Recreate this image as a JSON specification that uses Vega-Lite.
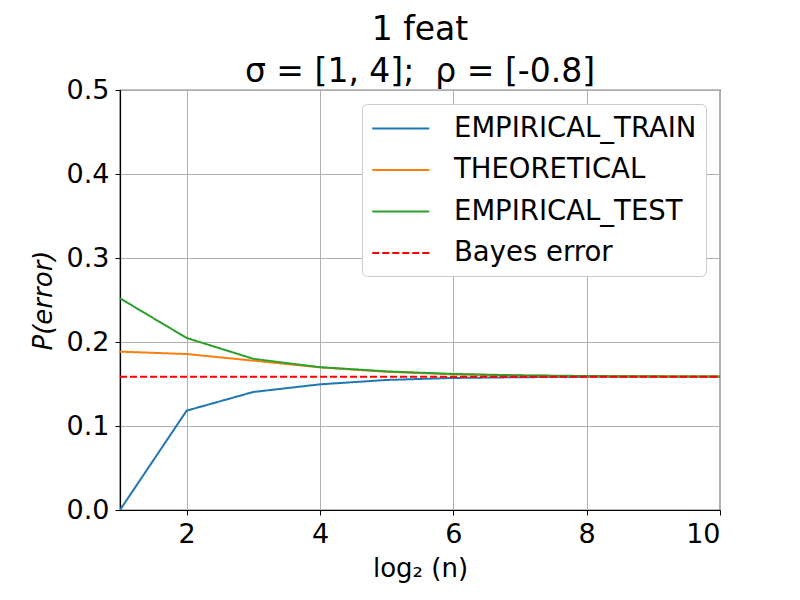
{
  "$schema": "https://vega.github.io/schema/vega-lite/v6.json",
  "width": 600,
  "height": 420,
  "autosize": {"type": "none"},
  "padding": {"left": 120, "top": 90, "right": 80, "bottom": 90},
  "background": "white",
  "config": {
    "font": "DejaVu Sans",
    "view": {"stroke": "black", "strokeWidth": 1.2},
    "axis": {
      "gridColor": "#b0b0b0",
      "gridWidth": 1,
      "gridOpacity": 1,
      "domainColor": "black",
      "domainWidth": 1.2,
      "tickColor": "black",
      "tickSize": 5,
      "tickWidth": 1,
      "labelFont": "DejaVu Sans",
      "labelFontSize": 27,
      "labelColor": "black",
      "titleFont": "DejaVu Sans",
      "titleFontSize": 26,
      "titleFontWeight": "normal",
      "titleColor": "black"
    }
  },
  "title": {
    "text": ["1 feat", "σ = [1, 4]; \u00a0ρ = [-0.8]"],
    "fontSize": 33,
    "fontWeight": "normal",
    "font": "DejaVu Sans",
    "color": "black",
    "anchor": "middle",
    "offset": -13,
    "lineHeight": 42
  },
  "data": {
    "values": [
      {"n": 1, "series": "EMPIRICAL_TRAIN", "p": 0.0},
      {"n": 2, "series": "EMPIRICAL_TRAIN", "p": 0.1183},
      {"n": 3, "series": "EMPIRICAL_TRAIN", "p": 0.1405},
      {"n": 4, "series": "EMPIRICAL_TRAIN", "p": 0.1496},
      {"n": 5, "series": "EMPIRICAL_TRAIN", "p": 0.1548},
      {"n": 6, "series": "EMPIRICAL_TRAIN", "p": 0.1572},
      {"n": 7, "series": "EMPIRICAL_TRAIN", "p": 0.1581},
      {"n": 8, "series": "EMPIRICAL_TRAIN", "p": 0.1585},
      {"n": 9, "series": "EMPIRICAL_TRAIN", "p": 0.1586},
      {"n": 10, "series": "EMPIRICAL_TRAIN", "p": 0.1587},
      {"n": 1, "series": "THEORETICAL", "p": 0.1885},
      {"n": 2, "series": "THEORETICAL", "p": 0.1857},
      {"n": 3, "series": "THEORETICAL", "p": 0.1778},
      {"n": 4, "series": "THEORETICAL", "p": 0.1698},
      {"n": 5, "series": "THEORETICAL", "p": 0.1645},
      {"n": 6, "series": "THEORETICAL", "p": 0.1615},
      {"n": 7, "series": "THEORETICAL", "p": 0.1600},
      {"n": 8, "series": "THEORETICAL", "p": 0.1593},
      {"n": 9, "series": "THEORETICAL", "p": 0.1590},
      {"n": 10, "series": "THEORETICAL", "p": 0.1588},
      {"n": 1, "series": "EMPIRICAL_TEST", "p": 0.2520},
      {"n": 2, "series": "EMPIRICAL_TEST", "p": 0.2048},
      {"n": 3, "series": "EMPIRICAL_TEST", "p": 0.1800},
      {"n": 4, "series": "EMPIRICAL_TEST", "p": 0.1700},
      {"n": 5, "series": "EMPIRICAL_TEST", "p": 0.1650},
      {"n": 6, "series": "EMPIRICAL_TEST", "p": 0.1620},
      {"n": 7, "series": "EMPIRICAL_TEST", "p": 0.1603},
      {"n": 8, "series": "EMPIRICAL_TEST", "p": 0.1595},
      {"n": 9, "series": "EMPIRICAL_TEST", "p": 0.1591},
      {"n": 10, "series": "EMPIRICAL_TEST", "p": 0.1589},
      {"n": 1, "series": "Bayes error", "p": 0.1587},
      {"n": 10, "series": "Bayes error", "p": 0.1587}
    ]
  },
  "mark": {"type": "line", "strokeWidth": 2, "clip": true},
  "encoding": {
    "x": {
      "field": "n",
      "type": "quantitative",
      "scale": {"domain": [1, 10], "nice": false, "zero": false},
      "axis": {"values": [2, 4, 6, 8, 10], "title": "log₂ (n)", "titlePadding": 8, "labelPadding": 6}
    },
    "y": {
      "field": "p",
      "type": "quantitative",
      "scale": {"domain": [0, 0.5], "nice": false},
      "axis": {"values": [0, 0.1, 0.2, 0.3, 0.4, 0.5], "format": ".1f", "title": "P(error)", "titleFontStyle": "italic", "titlePadding": 10, "labelPadding": 6}
    },
    "color": {
      "field": "series",
      "type": "nominal",
      "sort": null,
      "scale": {
        "domain": ["EMPIRICAL_TRAIN", "THEORETICAL", "EMPIRICAL_TEST", "Bayes error"],
        "range": ["#1f77b4", "#ff7f0e", "#2ca02c", "#ff0000"]
      },
      "legend": {
        "title": null,
        "orient": "top-right",
        "offset": 14,
        "padding": 9,
        "fillColor": "white",
        "strokeColor": "#cccccc",
        "cornerRadius": 5,
        "symbolType": "M-1,0H3",
        "symbolSize": 812,
        "symbolStrokeWidth": 2,
        "labelFontSize": 27.5,
        "labelFont": "DejaVu Sans",
        "labelColor": "black",
        "labelOffset": 52,
        "rowPadding": 12.5,
        "labelLimit": 400
      }
    },
    "strokeDash": {
      "field": "series",
      "type": "nominal",
      "sort": null,
      "scale": {
        "domain": ["EMPIRICAL_TRAIN", "THEORETICAL", "EMPIRICAL_TEST", "Bayes error"],
        "range": [[1, 0], [1, 0], [1, 0], [7, 3]]
      },
      "legend": null
    }
  }
}
